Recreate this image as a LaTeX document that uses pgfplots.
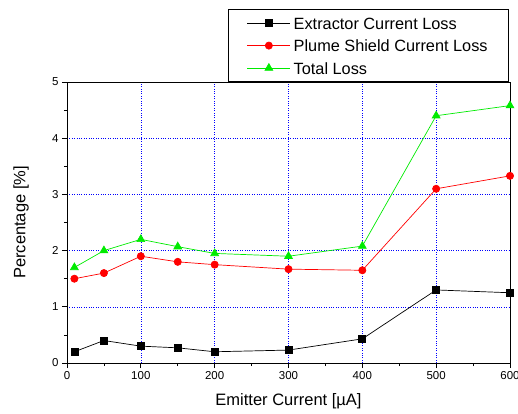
\documentclass[border=0pt]{standalone}
\usepackage{fontspec}
\setmainfont{Liberation Sans}
\usepackage{pgfplots}
\pgfplotsset{compat=1.18}
\usetikzlibrary{calc}
\definecolor{grn}{RGB}{0,235,0}
\definecolor{rd}{RGB}{255,0,0}

\begin{document}
\begin{tikzpicture}
\begin{axis}[name=ax,
  scale only axis, width=443pt, height=281pt,
  xmin=0, xmax=600, ymin=0, ymax=5,
  xtick={0,100,...,600}, ytick={0,1,...,5},
  minor x tick num=1, minor y tick num=1,
  tick align=outside, xtick pos=bottom, ytick pos=left,
  major tick length=5pt, minor tick length=3pt,
  tick style={black, line width=0.8pt},
  axis line style={line width=0.9pt},
  grid=major, major grid style={blue, line width=0.5pt, dash pattern=on 0.8pt off 1.6pt},
  ticklabel style={font=\fontsize{11.5}{13}\selectfont},
  /pgf/number format/assume math mode=true,
  xlabel={Emitter Current [µA]}, ylabel={Percentage [\%]},
  label style={font=\fontsize{16.5}{19}\selectfont},
  xlabel style={at={(axis description cs:0.5,-0.1377)}, anchor=center},
  ylabel style={at={(axis description cs:-0.1038,0.5)}, anchor=center},
  legend cell align=left,
  legend style={at={(axis description cs:1,1)}, anchor=south east, xshift=-1pt,
    draw=black, line width=0.8pt, font=\fontsize{16.3}{19}\selectfont,
    inner xsep=19pt, inner ysep=2.5pt, row sep=0.5pt, column sep=1pt,
    nodes={inner sep=2pt, text height=15pt, text depth=3pt}},
  legend image code/.code={\draw[mark repeat=2,mark phase=2,#1] plot coordinates {(0pt,0pt)(21.5pt,0pt)(43pt,0pt)};},
]
\addplot[black, line width=0.7pt, mark=square*, mark size=3.5pt] coordinates {
  (10,0.2)(50,0.4)(100,0.3)(150,0.27)(200,0.2)(300,0.23)(400,0.43)(500,1.3)(600,1.25)};
\addlegendentry{Extractor Current Loss}
\addplot[rd, line width=0.7pt, mark=*, mark size=3.6pt] coordinates {
  (10,1.5)(50,1.6)(100,1.9)(150,1.8)(200,1.75)(300,1.67)(400,1.65)(500,3.1)(600,3.33)};
\addlegendentry{Plume Shield Current Loss}
\addplot[grn, line width=0.7pt, mark=triangle*, mark size=4.5pt] coordinates {
  (10,1.7)(50,2.0)(100,2.2)(150,2.07)(200,1.95)(300,1.9)(400,2.08)(500,4.4)(600,4.58)};
\addlegendentry{Total Loss}
\end{axis}
\pgfresetboundingbox
\path[use as bounding box] ($(ax.south west)+(-67pt,-50pt)$) rectangle ($(ax.south west)+(451pt,363pt)$);
\end{tikzpicture}
\end{document}
